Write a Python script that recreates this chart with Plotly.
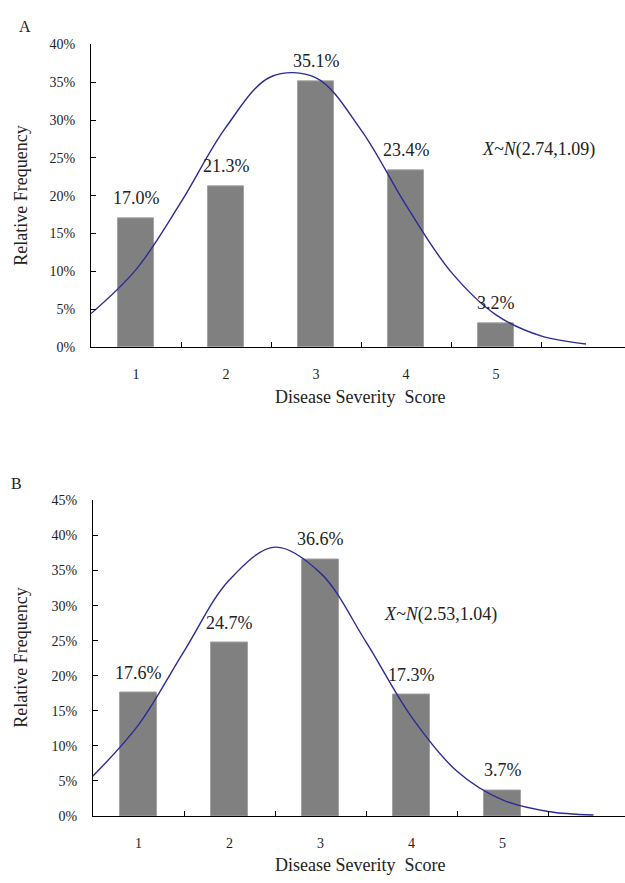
import plotly.graph_objects as go
from plotly.subplots import make_subplots

# Severity scores and observed relative frequencies (%)
scores = [1, 2, 3, 4, 5]
score_labels = ["1", "2", "3", "4", "5"]
freq_a = [17.0, 21.3, 35.1, 23.4, 3.2]
freq_b = [17.6, 24.7, 36.6, 17.3, 3.7]

# Fitted normal density curves (%), sampled every half score
curve_x = [0.5, 1.0, 1.5, 2.0, 2.5, 3.0, 3.5, 4.0, 4.5, 5.0, 5.5, 6.0]
curve_a = [4.43, 10.24, 19.16, 29.07, 35.72, 35.57, 28.70, 18.76, 9.94, 4.27, 1.48, 0.42]
curve_b = [5.71, 13.00, 23.49, 33.69, 38.34, 34.64, 24.83, 14.13, 6.38, 2.29, 0.65, 0.15]

fit_a = "<i>X~N</i>(2.74,1.09)"
fit_b = "<i>X~N</i>(2.53,1.04)"

y_ticks_a = [0, 5, 10, 15, 20, 25, 30, 35, 40]
y_ticks_b = [0, 5, 10, 15, 20, 25, 30, 35, 40, 45]
boundaries = [1.5, 2.5, 3.5, 4.5, 5.5]

W, H = 625, 883
FONT = "Liberation Serif, Times New Roman, serif"
TXT = "#222222"
BAR = "#808080"
LINE = "#2b2b96"

fig = make_subplots(rows=2, cols=1)

for row, freq, curve in ((1, freq_a, curve_a), (2, freq_b, curve_b)):
    fig.add_trace(go.Bar(x=scores, y=freq, width=0.41,
                         marker=dict(color=BAR, line=dict(color="#a3a3a3", width=1)),
                         showlegend=False, hoverinfo="skip"), row=row, col=1)
    fig.add_trace(go.Scatter(x=curve_x, y=curve, mode="lines",
                             line=dict(color=LINE, width=1.4, shape="spline"),
                             showlegend=False, hoverinfo="skip"), row=row, col=1)


def px_x(p):
    return p / W


def px_y(p):
    return 1 - p / H


xcommon = dict(tickmode="array", tickvals=scores, ticktext=score_labels, ticks="",
               showline=True, linecolor="black", linewidth=1.3, showgrid=False,
               zeroline=False, ticklabelstandoff=14,
               tickfont=dict(family=FONT, size=14, color=TXT),
               minor=dict(tickmode="array", tickvals=boundaries, ticks="inside",
                          ticklen=5, tickcolor="black", tickwidth=1.3, showgrid=False))
ycommon = dict(tickmode="array", ticks="inside", ticklen=5,
               tickcolor="black", tickwidth=1.3, showline=True, linecolor="black",
               linewidth=1.3, showgrid=False, zeroline=False, ticklabelstandoff=12,
               tickfont=dict(family=FONT, size=14, color=TXT))

fig.update_xaxes(xcommon, row=1, col=1)
fig.update_xaxes(xcommon, row=2, col=1)
fig.update_layout(
    xaxis=dict(domain=[px_x(91), 1.0], range=[0.5, 0.5 + 534 / 90]),
    xaxis2=dict(domain=[px_x(93), 1.0], range=[0.5, 0.5 + 532 / 91]),
    yaxis=dict(ycommon, domain=[px_y(346), px_y(38)], range=[0, 40],
               tickvals=y_ticks_a, ticktext=[f"{t}%" for t in y_ticks_a]),
    yaxis2=dict(ycommon, domain=[px_y(823), px_y(502)], range=[0, 45],
                tickvals=y_ticks_b, ticktext=[f"{t}%" for t in y_ticks_b]),
)

ann = []
# value labels above bars
for xa, ya, freq in (("x", "y", freq_a), ("x2", "y2", freq_b)):
    for s, v in zip(scores, freq):
        ann.append(dict(x=s, y=v, xref=xa, yref=ya, text=f"{v:.1f}%", showarrow=False,
                        xanchor="center", yanchor="middle", yshift=20,
                        font=dict(family=FONT, size=18, color=TXT)))

# fitted distribution labels
ann.append(dict(x=5.47, y=26.1, xref="x", yref="y", text=fit_a, showarrow=False,
                xanchor="center", yanchor="middle",
                font=dict(family=FONT, size=18, color=TXT)))
ann.append(dict(x=4.32, y=28.75, xref="x2", yref="y2", text=fit_b, showarrow=False,
                xanchor="center", yanchor="middle",
                font=dict(family=FONT, size=18, color=TXT)))


def paper_text(x, y, text, size, angle=0):
    return dict(x=px_x(x), y=px_y(y), xref="paper", yref="paper", text=text,
                textangle=angle, showarrow=False, xanchor="center", yanchor="middle",
                font=dict(family=FONT, size=size, color=TXT))


# panel letters
ann.append(paper_text(25, 20, "A", 16))
ann.append(paper_text(16, 485, "B", 16))

# axis titles
for yc_title, yc_x in ((192, 397), (662, 873)):
    ann.append(paper_text(21, yc_title, "Relative Frequency", 18, -90))
    ann.append(paper_text(360, yc_x, "Disease Severity  Score", 18))

fig.update_layout(
    width=W, height=H, margin=dict(l=0, r=0, t=0, b=0),
    paper_bgcolor="white", plot_bgcolor="white",
    bargap=0, annotations=ann,
)

fig.write_html("out.html")
